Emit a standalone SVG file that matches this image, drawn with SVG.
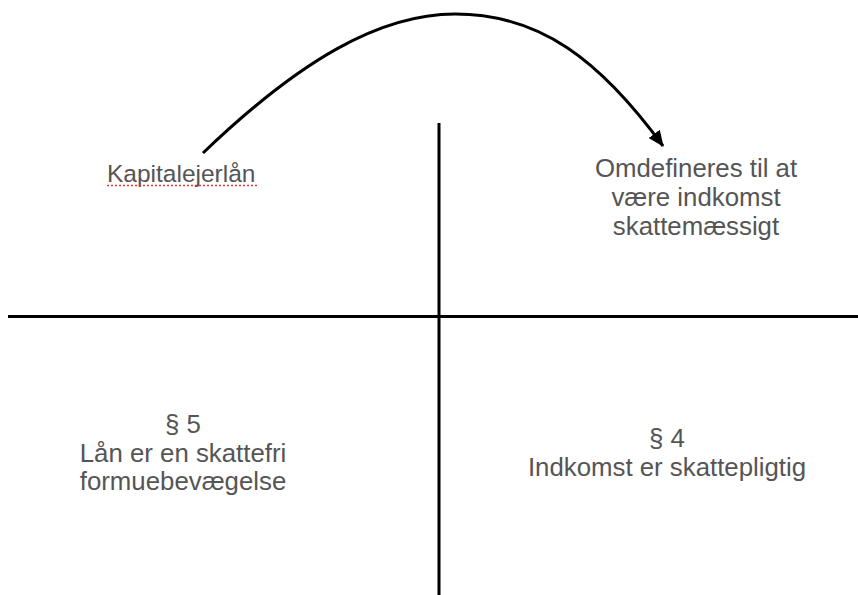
<svg xmlns="http://www.w3.org/2000/svg" width="858" height="595" viewBox="0 0 858 595">
<style>
.t{font-family:"Liberation Sans",Arial,sans-serif;font-size:25.8px;fill:#555;}
.k{font-size:24.5px;}
.ax{stroke:#000;stroke-width:3;fill:none;}
</style>
<defs>
<marker id="ah" markerWidth="16" markerHeight="14" refX="15" refY="7" orient="auto" markerUnits="userSpaceOnUse" viewBox="0 0 16 14">
<path d="M0,0 L16,7 L0,14 Z" fill="#000"/>
</marker>
</defs>
<rect width="858" height="595" fill="#fff"/>
<g id="axes">
<line class="ax" x1="439" y1="123" x2="439" y2="595"/>
<line class="ax" x1="8" y1="316.5" x2="858" y2="316.5"/>
</g>
<g id="connectors">
<path d="M203,153 C300,60 380,14 455,14 C540,14 600,60 663,146" fill="none" stroke="#000" stroke-width="3" marker-end="url(#ah)"/>
</g>
<g id="kapital">
<text class="t k" x="107" y="182">Kapitalejerlån</text>
<line x1="107" y1="185.5" x2="257" y2="185.5" stroke="#e33" stroke-width="1.5" stroke-dasharray="2,2"/>
</g>
<g id="omdefineres">
<text class="t" text-anchor="middle" x="696" y="177">Omdefineres til at</text>
<text class="t" text-anchor="middle" x="696" y="206">være indkomst</text>
<text class="t" text-anchor="middle" x="696" y="235">skattemæssigt</text>
</g>
<g id="p5">
<text class="t" text-anchor="middle" x="183" y="433">§ 5</text>
<text class="t" text-anchor="middle" x="183" y="462">Lån er en skattefri</text>
<text class="t" text-anchor="middle" x="183" y="490">formuebevægelse</text>
</g>
<g id="p4">
<text class="t" text-anchor="middle" x="667" y="447">§ 4</text>
<text class="t" text-anchor="middle" x="667" y="476">Indkomst er skattepligtig</text>
</g>
</svg>
